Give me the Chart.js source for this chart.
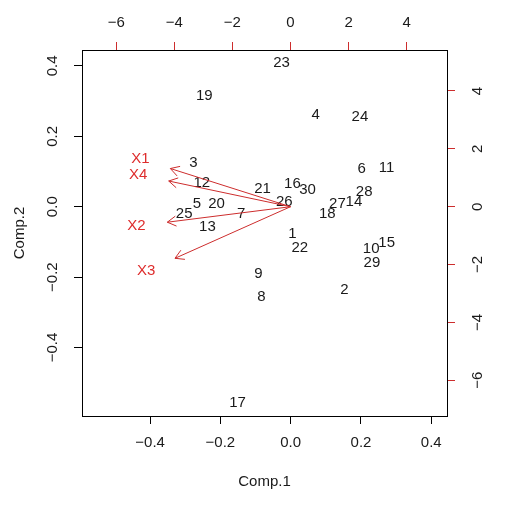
<!DOCTYPE html>
<html>
<head>
<meta charset="utf-8">
<script src="https://cdn.jsdelivr.net/npm/chart.js@4/dist/chart.umd.min.js"></script>
<style>
  body { margin: 0; background: #fff; }
  #wrap { width: 517px; height: 509px; }
</style>
</head>
<body>
<div id="wrap"><canvas id="myChart" width="517" height="509"></canvas></div>
<script>
// scores (Comp.1, Comp.2)
let obsLabels = ['1','2','3','4','5','6','7','8','9','10','11','12','13','14','15',
                 '16','17','18','19','20','21','22','23','24','25','26','27','28','29','30'];
let comp1 = [0.005, 0.153, -0.277, 0.071, -0.267, 0.202, -0.141, -0.083, -0.092, 0.229,
             0.273, -0.253, -0.237, 0.180, 0.273, 0.005, -0.151, 0.104, -0.246, -0.211,
             -0.080, 0.026, -0.026, 0.197, -0.303, -0.018, 0.133, 0.209, 0.231, 0.048];
let comp2 = [-0.078, -0.237, 0.125, 0.261, 0.008, 0.107, -0.019, -0.256, -0.191, -0.120,
             0.111, 0.068, -0.057, 0.014, -0.104, 0.066, -0.556, -0.021, 0.315, 0.007,
             0.052, -0.118, 0.409, 0.256, -0.019, 0.014, 0.008, 0.042, -0.159, 0.047];

// variable loadings (top / right axes)
let varLabels = ['X1', 'X2', 'X3', 'X4'];
let load1 = [-5.17, -5.30, -4.97, -5.24];
let load2 = [1.65, -0.67, -2.23, 1.11];

// axis ticks
let xTicks = [-0.4, -0.2, 0, 0.2, 0.4];
let yTicks = [-0.4, -0.2, 0, 0.2, 0.4];
let x2Ticks = [-6, -4, -2, 0, 2, 4];
let y2Ticks = [-6, -4, -2, 0, 2, 4];

const FONT = "'Liberation Sans', Arial, sans-serif";
const RED = 'rgb(222,45,45)';
const RED_LINE = 'rgb(205,45,45)';

function fmt(dec) {
  return v => (v < 0 ? '\u2212' : '') + Math.abs(v).toFixed(dec);
}

function setTicks(vals) {
  return s => { s.ticks = vals.map(v => ({ value: v })); };
}

function axis(pos, min, max, vals, dec, size, tickColor, pad, extra) {
  let horiz = pos == 'top' || pos == 'bottom';
  let o = {
    type: 'linear',
    position: pos,
    min: min, max: max,
    afterBuildTicks: setTicks(vals),
    afterFit: s => { if (horiz) s.height = size; else s.width = size; },
    grid: { drawOnChartArea: false, drawTicks: true, tickLength: 8, tickColor: tickColor, tickWidth: 1 },
    border: { display: true, color: '#000', width: 1 },
    ticks: {
      callback: fmt(dec),
      color: '#1a1a1a',
      font: { family: FONT, size: 15 },
      padding: pad,
      autoSkip: false,
      crossAlign: horiz ? 'near' : 'center',
      minRotation: horiz ? 0 : 90,
      maxRotation: horiz ? 0 : 90
    }
  };
  return Object.assign(o, extra || {});
}

// point labels + arrows, placed through the chart scales
const biplotText = {
  id: 'biplotText',
  afterDatasetsDraw(chart) {
    let ctx = chart.ctx;
    ctx.save();
    ctx.textAlign = 'center';
    ctx.textBaseline = 'middle';

    let meta = chart.getDatasetMeta(0);
    ctx.font = '15px ' + FONT;
    ctx.fillStyle = '#1a1a1a';
    meta.data.forEach((p, i) => ctx.fillText(obsLabels[i], p.x, p.y));

    let x2 = chart.scales.x2, y2 = chart.scales.y2;
    let ox = x2.getPixelForValue(0), oy = y2.getPixelForValue(0);
    ctx.strokeStyle = RED_LINE;
    ctx.lineWidth = 1;
    for (let i = 0; i < varLabels.length; i++) {
      // R biplot draws arrows to 0.8 of the loading
      let tx = x2.getPixelForValue(load1[i] * 0.8);
      let ty = y2.getPixelForValue(load2[i] * 0.8);
      let ang = Math.atan2(ty - oy, tx - ox);
      let len = 10;
      ctx.beginPath();
      ctx.moveTo(ox, oy);
      ctx.lineTo(tx, ty);
      ctx.moveTo(tx - len * Math.cos(ang - Math.PI / 6), ty - len * Math.sin(ang - Math.PI / 6));
      ctx.lineTo(tx, ty);
      ctx.lineTo(tx - len * Math.cos(ang + Math.PI / 6), ty - len * Math.sin(ang + Math.PI / 6));
      ctx.stroke();
    }
    let lm = chart.getDatasetMeta(1);
    ctx.fillStyle = RED;
    lm.data.forEach((p, i) => ctx.fillText(varLabels[i], p.x, p.y));
    ctx.restore();
  }
};

let ctx = document.getElementById('myChart').getContext('2d');
let myChart = new Chart(ctx, {
  type: 'scatter',
  data: {
    datasets: [{
      label: 'scores',
      data: comp1.map((v, i) => ({ x: v, y: comp2[i] })),
      xAxisID: 'x', yAxisID: 'y',
      pointRadius: 0, pointHoverRadius: 0
    }, {
      label: 'loadings',
      data: load1.map((v, i) => ({ x: v, y: load2[i] })),
      xAxisID: 'x2', yAxisID: 'y2',
      pointRadius: 0, pointHoverRadius: 0
    }]
  },
  options: {
    responsive: false,
    animation: false,
    layout: { padding: 0 },
    plugins: { legend: { display: false }, tooltip: { enabled: false } },
    scales: {
      x: axis('bottom', -0.5937, 0.4447, xTicks, 1, 93, '#000', 10, {
        title: { display: true, text: 'Comp.1', color: '#1a1a1a',
                 font: { family: FONT, size: 15 }, padding: { top: 0, bottom: 18 } }
      }),
      y: axis('left', -0.5946, 0.4452, yTicks, 1, 82, '#000', 6, {
        title: { display: true, text: 'Comp.2', color: '#1a1a1a',
                 font: { family: FONT, size: 15 }, padding: { top: 11, bottom: 0 } }
      }),
      x2: axis('top', -7.177, 5.387, x2Ticks, 0, 50, RED_LINE, 10),
      y2: axis('right', -7.235, 5.417, y2Ticks, 0, 70, RED_LINE, 14)
    }
  },
  plugins: [biplotText]
});
</script>
</body>
</html>
